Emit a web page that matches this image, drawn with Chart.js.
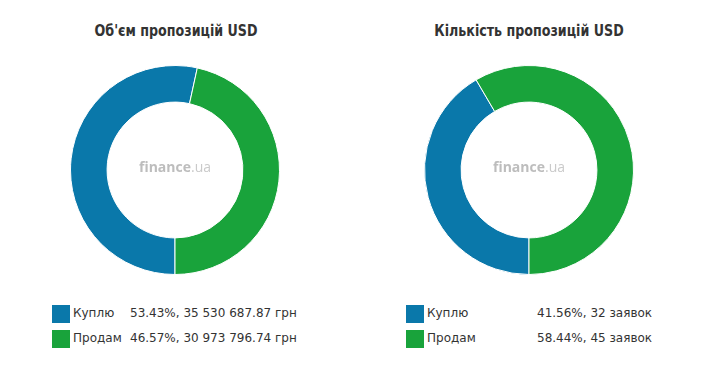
<!DOCTYPE html>
<html><head><meta charset="utf-8">
<script src="https://cdn.jsdelivr.net/npm/chart.js@4/dist/chart.umd.min.js"></script>
<style>
html,body{margin:0;padding:0;background:#fff;width:720px;height:365px;overflow:hidden;}
.title{position:absolute;top:21px;width:300px;text-align:center;font-family:"DejaVu Sans Condensed",sans-serif;font-stretch:condensed;font-weight:bold;font-size:16px;color:#333;transform:scaleX(0.88);transform-origin:center;}
.cv{position:absolute;top:65px;width:210px;height:210px;}
.leg{position:absolute;font-family:"DejaVu Sans",Verdana,sans-serif;font-size:12px;color:#333;}
.row{position:absolute;height:18px;white-space:nowrap;}
.sw{position:absolute;left:0;top:0;width:18px;height:18px;}
.lb{position:absolute;top:1px;}
.vl{position:absolute;top:1px;}
</style></head>
<body>
<div class="title" style="left:26px">Об'єм пропозицій USD</div>
<div class="title" style="left:379px">Кількість пропозицій USD</div>
<div class="cv" style="left:70px"><canvas id="c1" width="210" height="210"></canvas></div>
<div class="cv" style="left:424px"><canvas id="c2" width="210" height="210"></canvas></div>
<div class="leg" id="leg1" style="left:52px;top:305px"></div>
<div class="leg" id="leg2" style="left:406px;top:305px"></div>
<script>
const labels = ['Куплю', 'Продам'];
const volumeValues = [35530687.87, 30973796.74];
const countValues = [32, 45];
const colors = ['#0a78aa', '#19a33b'];

function fmtMoney(v){
  const parts = v.toFixed(2).split('.');
  return parts[0].replace(/\B(?=(\d{3})+(?!\d))/g, ' ') + '.' + parts[1];
}
function pct(vals, i){
  const s = vals.reduce((a,b)=>a+b,0);
  return (vals[i]/s*100).toFixed(2) + '%';
}

const centerText = {
  id:'centerText',
  afterDraw(chart){
    const ctx = chart.ctx;
    const m = chart.getDatasetMeta(0).data[0];
    const cx = m.x, cy = m.y - 2;
    ctx.save();
    ctx.textBaseline = 'middle';
    ctx.font = 'bold 14px "Open Sans", sans-serif';
    const w1 = ctx.measureText('finance').width;
    ctx.font = '14px "Open Sans", sans-serif';
    const w2 = ctx.measureText('.ua').width;
    const x0 = cx - (w1+w2)/2;
    ctx.fillStyle = '#bdbdbd';
    ctx.font = 'bold 14px "Open Sans", sans-serif';
    ctx.textAlign = 'left';
    ctx.fillText('finance', x0, cy);
    ctx.fillStyle = '#cacaca';
    ctx.font = '14px "Open Sans", sans-serif';
    ctx.fillText('.ua', x0 + w1, cy);
    ctx.restore();
  }
};

function makeChart(id, vals){
  return new Chart(document.getElementById(id), {
    type:'doughnut',
    data:{labels:labels, datasets:[{data:vals, backgroundColor:colors, borderColor:'#ffffff', borderWidth:1, hoverOffset:0}]},
    options:{
      responsive:false, animation:false, rotation:180, cutout:'65%',
      layout:{padding:0},
      plugins:{legend:{display:false}, tooltip:{enabled:false}, title:{display:false}}
    },
    plugins:[centerText]
  });
}
makeChart('c1', volumeValues);
makeChart('c2', countValues);

function buildLegend(elId, valTexts, valX){
  const el = document.getElementById(elId);
  labels.forEach((l,i)=>{
    const r = document.createElement('div');
    r.className='row';
    r.style.top = (i*25)+'px';
    r.innerHTML = '<div class="sw" style="background:'+colors[i]+'"></div>'+
      '<div class="lb" style="left:21px">'+l+'</div>'+
      '<div class="vl" style="left:'+valX+'px">'+valTexts[i]+'</div>';
    el.appendChild(r);
  });
}
buildLegend('leg1', volumeValues.map((v,i)=>pct(volumeValues,i)+', '+fmtMoney(v)+' грн'), 78);
buildLegend('leg2', countValues.map((v,i)=>pct(countValues,i)+', '+v+' заявок'), 131);
</script>
</body></html>
